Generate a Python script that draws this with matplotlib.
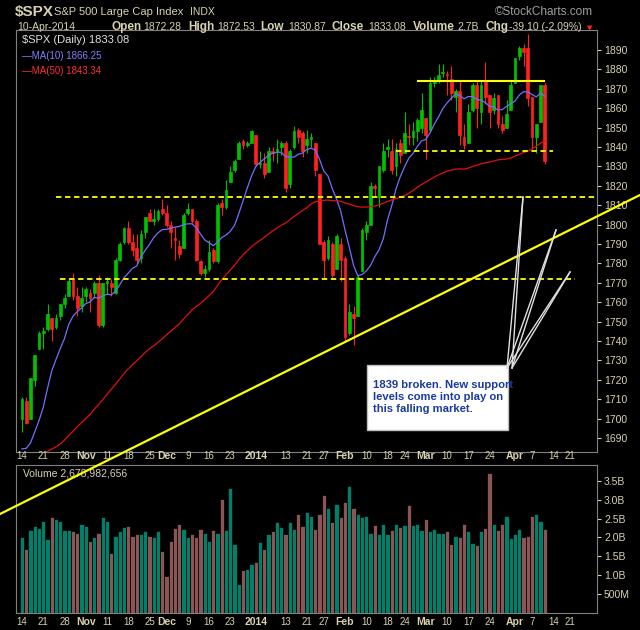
import matplotlib
matplotlib.use("Agg")
import matplotlib.pyplot as plt
import numpy as np
import pandas as pd
from matplotlib.lines import Line2D
from matplotlib.patches import Rectangle

plt.rcParams['font.family'] = ['Liberation Sans', 'DejaVu Sans']

prior_closes = [1706,1709,1707,1697,1690,1697,1691,1689,1694,1685,1661,1655,1652,1642,1656,1663,1656,1630,1634,1639,
                1633,1640,1653,1655,1656,1670,1680,1683,1688,1697,1704,1726,1722,1710,1701,1701,1698,1693,1682,1691,
                1681,1695,1693,1677,1685,1676,1656,1656,1693,1703]
closes = [1710,1698,1721,1733,1744,1744,1754,1746,1752,1759,1762,1771,1763,1757,
          1762,1767,1762,1770,1748,1770,1771,1768,1782,1790,1798,1791,1787,1782,1795,1804,1802,1802,1807,1806,
          1800,1796,1793,1785,1805,1808,1802,1782,1775,1775,1786,1781,1810,1809,1818,1827,1833,1842,1841,1841,1848,
          1831,1831,1826,1838,1837,1838,1842,1819,1838,1848,1845,1838,1844,1845,1828,1790,1782,1792,1774,1794,1782,
          1742,1755,1752,1773,1797,1800,1820,1819,1830,1838,1840,1828,1839,1836,1847,1845,1845,1854,1859,
          1846,1873,1873,1877,1878,1877,1868,1869,1846,1841,1858,1872,1860,1872,1866,1858,1865,1852,1849,1857,1872,
          1886,1891,1889,1865,1845,1852,1872,1833]
opens = [1700,1709,1700,1720,1736,1745,1746,1752,1747,1753,1759,1763,1772,1763,
         1758,1763,1765,1765,1770,1748,1770,1770,1765,1782,1791,1798,1791,1788,1783,1796,1806,1803,1803,1808,
         1806,1800,1792,1789,1788,1806,1808,1802,1781,1777,1777,1787,1781,1811,1809,1822,1828,1834,1843,1842,1842,
         1846,1832,1832,1827,1838,1839,1840,1842,1821,1840,1849,1847,1841,1844,1842,1826,1791,1783,1790,1777,1790,
         1783,1744,1754,1753,1776,1796,1800,1820,1814,1828,1839,1838,1830,1842,1837,1845,1848,1848,1850,
         1855,1849,1874,1874,1878,1877,1875,1866,1869,1845,1842,1859,1872,1858,1874,1867,1859,1867,1852,1850,1859,
         1873,1887,1891,1891,1866,1845,1853,1872]
highs = [1711,1711,1721,1733,1745,1747,1759,1752,1754,1759,1764,1772,1775,1768,
         1768,1768,1767,1771,1774,1770,1773,1772,1783,1791,1799,1802,1795,1795,1797,1804,1808,1808,1808,1813,
         1810,1802,1799,1792,1806,1811,1808,1803,1782,1779,1792,1788,1811,1813,1823,1830,1834,1843,1844,1843,1849,
         1846,1838,1837,1840,1840,1844,1843,1843,1839,1851,1850,1848,1849,1847,1842,1826,1792,1794,1791,1795,1793,
         1784,1759,1758,1774,1798,1802,1822,1821,1830,1842,1844,1844,1842,1844,1858,1852,1853,1855,1868,
         1855,1876,1876,1883,1883,1879,1882,1870,1874,1852,1862,1873,1874,1874,1884,1867,1868,1867,1856,1864,1874,
         1886,1892,1893,1898,1866,1850,1856,1873]
lows = [1693,1697,1700,1717,1736,1736,1745,1740,1746,1751,1757,1763,1761,1753,
        1755,1760,1755,1762,1747,1747,1764,1763,1764,1781,1790,1790,1784,1780,1780,1793,1802,1800,1802,1805,
        1799,1788,1782,1783,1788,1805,1801,1781,1774,1773,1776,1780,1780,1805,1808,1822,1827,1834,1839,1840,1842,
        1830,1829,1824,1827,1833,1832,1836,1817,1819,1839,1842,1835,1837,1840,1825,1790,1772,1782,1773,1777,1771,
        1740,1743,1738,1753,1776,1792,1800,1815,1809,1827,1835,1826,1825,1832,1837,1841,1841,1843,1847,
        1834,1849,1871,1873,1876,1867,1864,1858,1841,1839,1842,1858,1850,1852,1862,1850,1857,1850,1847,1850,1859,
        1873,1885,1882,1861,1839,1837,1853,1831]
volumes_b = [2.0,1.7,2.2,2.3,2.25,2.45,1.97,2.53,2.48,2.43,2.2,2.2,2.17,2.13,2.37,2.3,1.9,2.0,2.13,2.53,
             2.45,1.58,2.05,2.17,2.27,2.3,2.05,2.08,2.08,2.17,2.05,2.02,2.17,1.65,0.98,1.9,2.25,2.37,2.23,2.0,
             2.08,2.02,2.23,2.13,1.9,2.2,2.13,3.03,2.2,3.32,1.82,0.78,1.13,1.17,1.3,1.35,1.87,1.7,2.1,2.17,
             2.4,2.27,2.1,2.4,2.23,2.62,2.3,2.67,2.57,2.22,2.63,3.12,2.77,2.4,2.9,2.53,2.93,3.37,2.77,2.63,
             2.53,2.57,2.13,2.33,2.1,2.35,2.1,2.2,2.37,2.27,2.33,2.85,2.33,2.37,2.2,2.5,2.17,2.22,2.13,2.13,
             2.17,1.82,2.03,2.0,2.37,2.17,1.85,1.8,2.17,2.25,3.72,2.37,2.2,2.37,2.57,1.98,2.08,2.22,2.02,2.05,
             2.57,2.63,2.43,2.23,2.7]
tick_labels = ["14","21","28","Nov","11","18","25","Dec","9","16","23","2014","13","21","27","Feb","10","18","24",
               "Mar","10","17","24","Apr","7","14","21"]
tick_dates = ["2013-10-14","2013-10-21","2013-10-28","2013-11-04","2013-11-11","2013-11-18","2013-11-25",
              "2013-12-02","2013-12-09","2013-12-16","2013-12-23","2014-01-02","2014-01-13","2014-01-21",
              "2014-01-27","2014-02-03","2014-02-10","2014-02-18","2014-02-24","2014-03-03","2014-03-10",
              "2014-03-17","2014-03-24","2014-04-01","2014-04-07","2014-04-14","2014-04-21"]
support_levels = [1814, 1772, 1838]
resistance = 1874

holidays = pd.to_datetime(["2013-11-28","2013-12-25","2014-01-01","2014-01-20","2014-02-17","2014-04-18"])
alldays = pd.bdate_range("2013-10-14", "2014-04-30")
alldays = alldays[~alldays.isin(holidays)]
pos = {d: i for i, d in enumerate(alldays)}
n = len(closes)

allc = pd.Series(prior_closes + closes)
ma10 = allc.rolling(10).mean().values[-n:]
ma50 = allc.rolling(50, min_periods=45).mean().values[-n:]

BG = "black"; TXT = "#d8d2b0"; GRID = "#808080"
fig = plt.figure(figsize=(6.4, 6.3), dpi=100, facecolor=BG)
W, H = 640, 630
ax = fig.add_axes([16/W, 1-452/H, 581/W, 422/H], facecolor=BG)
axv = fig.add_axes([16/W, 1-613/H, 581/W, 148/H], facecolor=BG)

x = np.arange(n)
ppb = 4.25
xl = (-(22-16)/ppb, -(22-16)/ppb + 581/ppb)
prev = [prior_closes[-1]] + closes[:-1]
for i in range(n):
    up = closes[i] >= prev[i]
    c = "#00c000" if up else "#ff2020"
    ax.vlines(i, lows[i], highs[i], color=c, lw=0.8)
    b0 = min(opens[i], closes[i]); h = max(abs(closes[i]-opens[i]), 0.6)
    ax.add_patch(Rectangle((i-0.35, b0), 0.7, h, facecolor=c, edgecolor=c, lw=0.5))
ax.plot(x, ma10, color="#7070ff", lw=0.9)
ax.plot(x, ma50, color="#e01010", lw=0.9)
ax.hlines(support_levels[0], 8, 135, colors="#ffff00", linestyles=(0, (3, 2)), lw=1.3)
ax.hlines(support_levels[1], 9, 130, colors="#ffff00", linestyles=(0, (3, 2)), lw=1.3)
ax.hlines(support_levels[2], 88, 125, colors="#ffff00", linestyles=(0, (3, 2)), lw=1.3)
ax.hlines(resistance, 93, 123, colors="#ffff00", lw=1.5)
ax.set_xlim(*xl); ax.set_ylim(1682.8, 1900.3)
ax.yaxis.tick_right()
ax.set_yticks(np.arange(1690, 1891, 10))
ax.tick_params(axis='y', colors=TXT, labelsize=7.5, length=3, pad=2)
ax.tick_params(axis='x', length=0, labelbottom=False)

ax.text(0.01, 0.988, "$SPX (Daily) 1833.08", transform=ax.transAxes, color="#e0e0e0", fontsize=8, va="top")
ax.text(0.01, 0.95, "\u2014MA(10) 1866.25", transform=ax.transAxes, color="#8080ff", fontsize=7, va="top")
ax.text(0.01, 0.915, "\u2014MA(50) 1843.34", transform=ax.transAxes, color="#ff3030", fontsize=7, va="top")

vcol = ["#00806a" if closes[i] >= prev[i] else "#8a5555" for i in range(n)]
axv.bar(x, volumes_b[:n], width=1.0, color=vcol, edgecolor="black", lw=0.5)
axv.set_xlim(*xl); axv.set_ylim(0, 3.92)
axv.yaxis.tick_right()
axv.set_yticks([0.5,1.0,1.5,2.0,2.5,3.0,3.5])
axv.set_yticklabels(["500M","1.0B","1.5B","2.0B","2.5B","3.0B","3.5B"])
axv.tick_params(axis='y', colors=TXT, labelsize=7.5, length=3, pad=2)
axv.tick_params(axis='x', length=0, labelbottom=False)
axv.text(0.012, 0.975, "Volume 2,678,982,656", transform=axv.transAxes, color=TXT, fontsize=7.5, va="top")

for a in (ax, axv):
    for s in a.spines.values():
        s.set_color(GRID)

months = {"Nov","Dec","2014","Feb","Mar","Apr"}
for lab, d in zip(tick_labels, tick_dates):
    xi = pos[pd.Timestamp(d)]
    bold = lab in months
    for a, yy in ((ax, 456), (axv, 622)):
        xf = a.transData.transform((xi, 0))[0]
        fig.text(xf/W, 1-yy/H, lab, color=TXT, fontsize=7.5 if bold else 7,
                 fontweight="bold" if bold else "normal", ha="center", va="center")

# header
fig.text(15/W, 1-12/H, "$SPX", color=TXT, fontsize=11, fontweight="bold", va="center")
fig.text(54/W, 1-12/H, "S&P 500 Large Cap Index", color=TXT, fontsize=8, va="center")
fig.text(190/W, 1-12/H, "INDX", color=TXT, fontsize=7.5, va="center")
fig.text(593/W, 1-12/H, "\u00a9StockCharts.com", color="#a0a0a0", fontsize=8.5, va="center", ha="right")
fig.text(17/W, 1-27/H, "10-Apr-2014", color=TXT, fontsize=7.5, va="center")
hdr = [("Open", 111), ("1872.28", 143), ("High", 188), ("1872.53", 217), ("Low", 260), ("1830.87", 288),
       ("Close", 331), ("1833.08", 368), ("Volume", 413), ("2.7B", 457), ("Chg", 486), ("-39.10 (-2.09%)", 509)]
for t, xp in hdr:
    num = t[0].isdigit() or t[0] == "-"
    fig.text(xp/W, 1-27/H, t, color=TXT, fontsize=7.5 if num else 8.5,
             fontweight="normal" if num else "bold", va="center")
fig.text(587/W, 1-28/H, "\u25bc", color="#ff2020", fontsize=5, va="center", family="DejaVu Sans")

# trendline and annotation lines in figure pixels
fig.add_artist(Line2D([0/W, 640/W], [1-514/H, 1-195/H], color="#ffff00", lw=1.6))
for (x2, y2) in [(523, 197), (556, 230), (570, 272)]:
    fig.add_artist(Line2D([507/W, x2/W], [1-368/H, 1-y2/H], color="#e0e0e0", lw=1.0))
    fig.add_artist(Line2D([512/W, x2/W], [1-368/H, 1-y2/H], color="#e0e0e0", lw=1.0))
fig.add_artist(Rectangle((367/W, 1-430/H), 141/W, 65/H, transform=fig.transFigure,
                         facecolor="white", edgecolor="#c0c0c0", lw=1))
fig.text(373/W, 1-397/H, "1839 broken. New support\nlevels come into play on\nthis falling market.",
         color="#1a3aa0", fontsize=8.1, fontweight="bold", va="center", linespacing=1.3)

fig.savefig("out.png", dpi=100, facecolor=BG)
